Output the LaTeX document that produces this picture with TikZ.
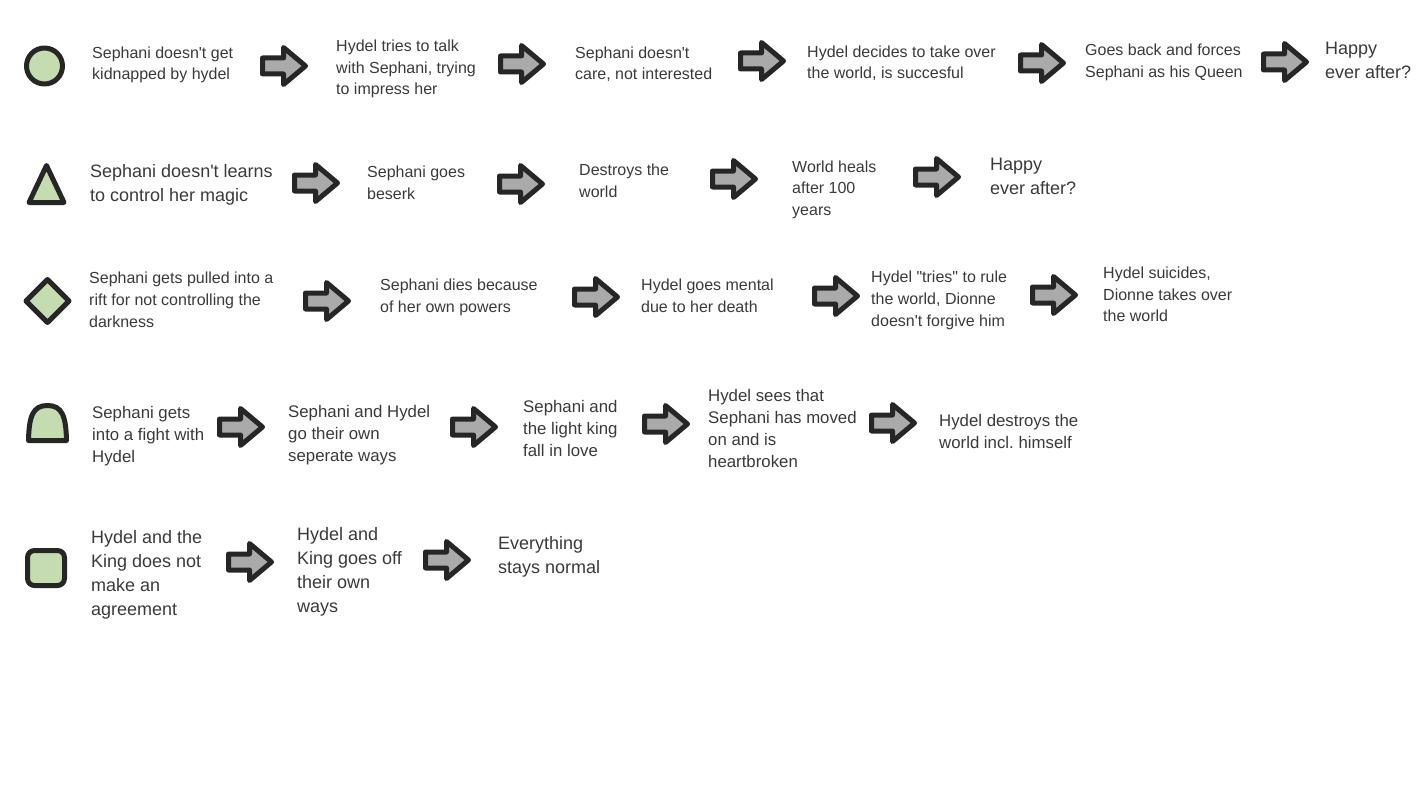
\documentclass[tikz,border=0pt]{standalone}
\usepackage{fontspec}
\setmainfont{Liberation Sans}[Ligatures=TeXOff]
\definecolor{txtc}{HTML}{3A3A3A}
\definecolor{ink}{HTML}{262626}
\definecolor{leaf}{HTML}{C5DCB0}
\definecolor{agray}{HTML}{AAAAAA}
\tikzset{
  shapeline/.style={draw=ink, line width=5pt, fill=leaf, line join=round},
  blockarrow/.pic={\draw[draw=ink,line width=5pt,fill=agray,line join=round]
     (2.5,-8)--(23.5,-8)--(23.5,-18.5)--(45.5,0)--(23.5,18.5)--(23.5,8)--(2.5,8)--cycle;},
  txtbase/.style={anchor=north west, align=left, inner sep=0pt, text=txtc,
     execute at begin node={\frenchspacing\strut}},
  tsmall/.style={txtbase, font=\fontsize{16}{21.7}\selectfont, yshift=10.7pt},
  tmid/.style={txtbase, font=\fontsize{16.8}{22}\selectfont, yshift=10.9pt},
  tbig/.style={txtbase, font=\fontsize{18}{24}\selectfont, yshift=12.8pt},
}
\begin{document}
\begin{tikzpicture}[x=1pt,y=-1pt]
\useasboundingbox (0,0) rectangle (1422,800);
% ---- row 1
\draw[shapeline] (44.5,66) circle (18);
\node[tsmall] (r1a) at (92,57) {Sephani doesn't get\\kidnapped by hydel};
\pic (a11) at (260,66) {blockarrow};
\node[tsmall] (r1b) at (336,50.5) {Hydel tries to talk\\with Sephani, trying\\to impress her};
\pic (a12) at (498,64) {blockarrow};
\node[tsmall] (r1c) at (575,57) {Sephani doesn't\\care, not interested};
\pic (a13) at (738,61) {blockarrow};
\node[tsmall] (r1d) at (807,56) {Hydel decides to take over\\the world, is succesful};
\pic (a14) at (1018,63) {blockarrow};
\node[tsmall] (r1e) at (1085,54.5) {Goes back and forces\\Sephani as his Queen};
\pic (a15) at (1261,62) {blockarrow};
\node[tbig] (r1f) at (1325,55) {Happy\\ever after?};
% ---- row 2
\draw[shapeline] (29,202.5) -- (64,202.5) -- (46.5,165.5) -- cycle;
\node[tbig] (r2a) at (90,177.3) {Sephani doesn't learns\\to control her magic};
\pic (a21) at (292,183) {blockarrow};
\node[tsmall] (r2b) at (367,176.7) {Sephani goes\\beserk};
\pic (a22) at (497,184) {blockarrow};
\node[tsmall] (r2c) at (579,174.3) {Destroys the\\world};
\pic (a23) at (710,179) {blockarrow};
\node[tsmall] (r2d) at (792,171) {World heals\\after 100\\years};
\pic (a24) at (913,177) {blockarrow};
\node[tbig] (r2e) at (990,171) {Happy\\ever after?};
% ---- row 3
\draw[shapeline] (47.5,279.5) -- (69,301) -- (47.5,322.5) -- (26,301) -- cycle;
\node[tsmall] (r3a) at (89,282.7) {Sephani gets pulled into a\\rift for not controlling the\\darkness};
\pic (a31) at (303,301) {blockarrow};
\node[tsmall] (r3b) at (380,289.5) {Sephani dies because\\of her own powers};
\pic (a32) at (572,297) {blockarrow};
\node[tsmall] (r3c) at (641,289.3) {Hydel goes mental\\due to her death};
\pic (a33) at (812,296) {blockarrow};
\node[tsmall] (r3d) at (871,281.7) {Hydel "tries" to rule\\the world, Dionne\\doesn't forgive him};
\pic (a34) at (1030,295) {blockarrow};
\node[tsmall] (r3e) at (1103,277.5) {Hydel suicides,\\Dionne takes over\\the world};
% ---- row 4
\draw[shapeline] (28.5,440.5) -- (66.5,440.5) .. controls (66,416) and (62,405.5) .. (47.5,405.5)
   .. controls (33,405.5) and (29,416) .. (28.5,440.5) -- cycle;
\node[tmid] (r4a) at (92,416.7) {Sephani gets\\into a fight with\\Hydel};
\pic (a41) at (217,427) {blockarrow};
\node[tmid] (r4b) at (288,416) {Sephani and Hydel\\go their own\\seperate ways};
\pic (a42) at (450,427) {blockarrow};
\node[tmid] (r4c) at (523,411) {Sephani and\\the light king\\fall in love};
\pic (a43) at (642,424) {blockarrow};
\node[tmid] (r4d) at (708,400.5) {Hydel sees that\\Sephani has moved\\on and is\\heartbroken};
\pic (a44) at (869,423) {blockarrow};
\node[tmid] (r4e) at (939,425) {Hydel destroys the\\world incl. himself};
% ---- row 5
\draw[shapeline, rounded corners=7pt] (27.5,550.5) rectangle (64.5,585.5);
\node[tbig] (r5a) at (91,542.7) {Hydel and the\\King does not\\make an\\agreement};
\pic (a51) at (226,562) {blockarrow};
\node[tbig] (r5b) at (297,540.5) {Hydel and\\King goes off\\their own\\ways};
\pic (a52) at (423,560) {blockarrow};
\node[tbig] (r5c) at (498,549.5) {Everything\\stays normal};
\end{tikzpicture}
\end{document}
